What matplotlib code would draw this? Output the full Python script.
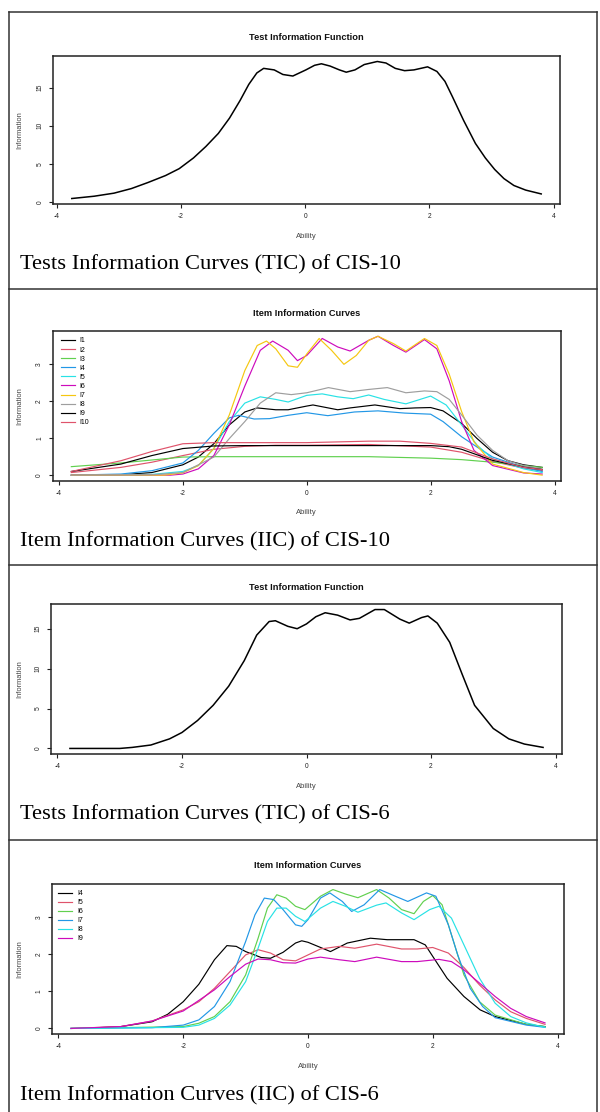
import matplotlib
matplotlib.use('Agg')
import matplotlib.pyplot as plt
from matplotlib.lines import Line2D

plt.rcParams['axes.unicode_minus'] = False
plt.rcParams['font.family'] = ['Liberation Sans', 'DejaVu Sans']

W, H = 600, 1112

# R default palette (R >= 4.0)
R_COLORS = ['black', '#DF536B', '#61D04F', '#2297E6', '#28E2E5',
            '#CD0BBC', '#F5C710', '#9E9E9E']

# ---------------- Panel 1: TIC of CIS-10 ----------------
tic10_theta = [-3.76, -3.4, -3.08, -2.8, -2.53, -2.25, -2.03, -1.8, -1.6, -1.4,
               -1.22, -1.05, -0.91, -0.78, -0.67, -0.5, -0.36, -0.2, 0.01, 0.15,
               0.26, 0.4, 0.55, 0.66, 0.8, 0.95, 1.16, 1.3, 1.45, 1.6,
               1.75, 1.97, 2.12, 2.25, 2.37, 2.55, 2.74, 2.9, 3.05, 3.2,
               3.36, 3.55, 3.8]
tic10_info = [0.5, 0.8, 1.2, 1.8, 2.6, 3.5, 4.4, 5.8, 7.3, 9.0,
              11.0, 13.3, 15.4, 16.9, 17.5, 17.3, 16.7, 16.5, 17.3, 17.9,
              18.1, 17.8, 17.3, 17.0, 17.3, 18.0, 18.4, 18.2, 17.5, 17.2,
              17.3, 17.7, 17.1, 15.8, 13.8, 10.7, 7.7, 5.8, 4.3, 3.1,
              2.2, 1.6, 1.1]

# ---------------- Panel 2: IIC of CIS-10 ----------------
iic10_labels = ['I1', 'I2', 'I3', 'I4', 'I5', 'I6', 'I7', 'I8', 'I9', 'I10']

i1_theta = [-3.8, -3.0, -2.5, -2.0, -1.75, -1.5, -1.25, -1.0, -0.8, -0.5, -0.3, 0.0,
            0.1, 0.5, 0.7, 1.1, 1.5, 1.75, 2.0, 2.2, 2.5, 2.75, 3.0, 3.25, 3.5, 3.8]
i1_info = [0.0, 0.01, 0.07, 0.28, 0.49, 0.85, 1.36, 1.71, 1.82, 1.77, 1.77, 1.87,
           1.90, 1.77, 1.82, 1.90, 1.80, 1.82, 1.83, 1.74, 1.40, 0.99, 0.62, 0.39, 0.28, 0.21]

i2_theta = [-3.8, -3.0, -2.5, -2.0, -1.5, -1.0, -0.5, 0.0, 1.0, 2.0, 2.5, 3.0, 3.5, 3.8]
i2_info = [0.07, 0.21, 0.35, 0.53, 0.70, 0.78, 0.81, 0.81, 0.83, 0.76, 0.62, 0.37, 0.19, 0.12]

i3_theta = [-3.8, -3.0, -2.5, -2.0, -1.5, 0.0, 1.0, 1.5, 2.0, 2.5, 3.0, 3.5, 3.8]
i3_info = [0.23, 0.33, 0.41, 0.49, 0.50, 0.50, 0.50, 0.48, 0.46, 0.42, 0.35, 0.26, 0.21]

i4_theta = [-3.8, -3.0, -2.5, -2.0, -1.75, -1.5, -1.25, -1.1, -0.85, -0.6, -0.3, 0.0,
            0.34, 0.77, 1.15, 1.58, 2.0, 2.2, 2.5, 2.75, 3.0, 3.5, 3.8]
i4_info = [0.0, 0.03, 0.12, 0.33, 0.67, 1.13, 1.55, 1.62, 1.52, 1.53, 1.62, 1.69,
           1.61, 1.71, 1.74, 1.68, 1.65, 1.45, 1.04, 0.76, 0.49, 0.21, 0.10]

i5_theta = [-3.8, -2.5, -2.0, -1.75, -1.5, -1.25, -1.0, -0.75, -0.5, -0.3, 0.0, 0.25,
            0.5, 0.75, 1.0, 1.25, 1.6, 2.0, 2.25, 2.5, 2.75, 3.0, 3.5, 3.8]
i5_info = [0.0, 0.02, 0.10, 0.26, 0.72, 1.45, 1.95, 2.12, 2.05, 1.98, 2.16, 2.20,
           2.12, 2.07, 2.17, 2.05, 1.93, 2.14, 1.90, 1.36, 0.81, 0.44, 0.17, 0.07]

i6_theta = [-3.8, -2.2, -2.0, -1.75, -1.5, -1.25, -1.0, -0.75, -0.55, -0.3, -0.15, 0.0,
            0.25, 0.5, 0.7, 1.0, 1.15, 1.4, 1.6, 1.9, 2.1, 2.3, 2.5, 2.7, 3.0, 3.5, 3.8]
i6_info = [0.0, 0.0, 0.03, 0.17, 0.53, 1.36, 2.41, 3.38, 3.63, 3.38, 3.10, 3.24,
           3.70, 3.47, 3.36, 3.65, 3.76, 3.51, 3.33, 3.67, 3.42, 2.55, 1.45, 0.67, 0.26, 0.06, 0.03]

i7_theta = [-3.8, -2.3, -2.0, -1.75, -1.5, -1.25, -1.0, -0.8, -0.65, -0.5, -0.3, -0.15,
            0.0, 0.2, 0.4, 0.6, 0.8, 1.0, 1.15, 1.4, 1.6, 1.9, 2.1, 2.3, 2.5, 2.7,
            3.0, 3.5, 3.8]
i7_info = [0.0, 0.0, 0.06, 0.26, 0.72, 1.63, 2.83, 3.51, 3.63, 3.42, 2.96, 2.92,
           3.28, 3.70, 3.38, 3.00, 3.24, 3.65, 3.76, 3.56, 3.36, 3.70, 3.51, 2.73, 1.72, 0.90,
           0.30, 0.07, 0.0]

i8_theta = [-3.8, -2.5, -2.0, -1.5, -1.25, -1.0, -0.75, -0.5, -0.25, 0.0, 0.35, 0.7,
            1.0, 1.3, 1.6, 1.9, 2.1, 2.3, 2.5, 2.75, 3.0, 3.25, 3.5, 3.8]
i8_info = [0.0, 0.01, 0.07, 0.49, 0.99, 1.45, 1.95, 2.23, 2.18, 2.23, 2.37, 2.26,
           2.32, 2.37, 2.23, 2.28, 2.26, 2.05, 1.63, 1.08, 0.67, 0.39, 0.26, 0.17]

i9_theta = [-3.8, -3.0, -2.5, -2.0, -1.5, -1.0, 0.0, 1.0, 2.0, 2.3, 2.5, 3.0, 3.5, 3.8]
i9_info = [0.10, 0.30, 0.53, 0.72, 0.79, 0.80, 0.80, 0.80, 0.80, 0.77, 0.70, 0.40, 0.22, 0.15]

i10_theta = [-3.8, -3.0, -2.5, -2.0, -1.5, -1.0, 0.0, 1.0, 1.5, 2.0, 2.5, 3.0, 3.5, 3.8]
i10_info = [0.10, 0.39, 0.64, 0.85, 0.88, 0.88, 0.88, 0.92, 0.92, 0.86, 0.76, 0.44, 0.21, 0.15]

# ---------------- Panel 3: TIC of CIS-6 ----------------
tic6_theta = [-3.8, -3.0, -2.8, -2.5, -2.2, -2.0, -1.75, -1.5, -1.25, -1.0, -0.8, -0.6,
              -0.5, -0.3, -0.15, 0.0, 0.15, 0.3, 0.5, 0.7, 0.85, 1.1, 1.25, 1.5,
              1.65, 1.85, 1.95, 2.1, 2.3, 2.5, 2.7, 3.0, 3.25, 3.5, 3.8]
tic6_info = [0.0, 0.0, 0.13, 0.43, 1.2, 2.0, 3.5, 5.4, 7.8, 11.0, 14.2, 15.9,
             16.0, 15.3, 15.0, 15.6, 16.5, 17.0, 16.7, 16.1, 16.3, 17.4, 17.4, 16.2,
             15.7, 16.4, 16.6, 15.7, 13.3, 9.3, 5.4, 2.5, 1.2, 0.55, 0.13]

# ---------------- Panel 4: IIC of CIS-6 ----------------
iic6_labels = ['I4', 'I5', 'I6', 'I7', 'I8', 'I9']

c6_i4_theta = [-3.8, -3.5, -3.0, -2.5, -2.25, -2.0, -1.75, -1.5, -1.3, -1.15, -1.0, -0.75,
               -0.6, -0.4, -0.2, -0.1, 0.0, 0.36, 0.63, 1.0, 1.27, 1.7, 1.88, 2.0,
               2.23, 2.5, 2.76, 3.0, 3.5, 3.8]
c6_i4_info = [0.0, 0.01, 0.05, 0.18, 0.38, 0.72, 1.19, 1.85, 2.23, 2.21, 2.07, 1.91,
              1.89, 2.05, 2.30, 2.36, 2.32, 2.07, 2.30, 2.43, 2.39, 2.39, 2.25, 1.94,
              1.35, 0.86, 0.50, 0.32, 0.11, 0.05]

c6_i5_theta = [-3.8, -3.0, -2.5, -2.0, -1.75, -1.5, -1.25, -1.0, -0.8, -0.6, -0.4, -0.2,
               0.0, 0.2, 0.5, 0.75, 1.1, 1.5, 1.75, 2.0, 2.25, 2.5, 2.75, 3.0, 3.25, 3.5, 3.8]
c6_i5_info = [0.0, 0.05, 0.20, 0.50, 0.72, 1.08, 1.53, 1.98, 2.12, 2.03, 1.85, 1.82,
              1.98, 2.14, 2.21, 2.16, 2.27, 2.14, 2.14, 2.18, 2.03, 1.64, 1.17, 0.77, 0.45, 0.27, 0.11]

c6_i6_theta = [-3.8, -2.0, -1.75, -1.5, -1.25, -1.0, -0.8, -0.65, -0.5, -0.35, -0.2, -0.05,
               0.2, 0.4, 0.6, 0.8, 1.1, 1.3, 1.5, 1.7, 1.85, 2.0, 2.15, 2.3, 2.5, 2.75,
               3.0, 3.5, 3.8]
c6_i6_info = [0.0, 0.05, 0.14, 0.32, 0.72, 1.44, 2.43, 3.24, 3.60, 3.51, 3.29, 3.20,
              3.56, 3.74, 3.62, 3.52, 3.74, 3.51, 3.20, 3.09, 3.42, 3.58, 3.33, 2.52, 1.44, 0.72,
              0.36, 0.11, 0.05]

c6_i7_theta = [-3.8, -2.5, -2.0, -1.75, -1.5, -1.25, -1.0, -0.85, -0.7, -0.55, -0.4, -0.2,
               -0.1, 0.0, 0.2, 0.35, 0.55, 0.7, 0.9, 1.15, 1.4, 1.6, 1.9, 2.05, 2.25, 2.4,
               2.6, 2.8, 3.0, 3.5, 3.8]
c6_i7_info = [0.0, 0.02, 0.09, 0.23, 0.59, 1.26, 2.34, 3.06, 3.51, 3.47, 3.20, 2.79,
              2.75, 2.93, 3.51, 3.65, 3.42, 3.15, 3.33, 3.74, 3.56, 3.42, 3.65, 3.56, 2.79, 1.98,
              1.08, 0.59, 0.29, 0.09, 0.03]

c6_i8_theta = [-3.8, -2.0, -1.75, -1.5, -1.25, -1.0, -0.8, -0.65, -0.5, -0.35, -0.2, -0.05,
               0.2, 0.4, 0.6, 0.8, 1.1, 1.25, 1.5, 1.7, 1.95, 2.1, 2.3, 2.5, 2.75, 3.0,
               3.25, 3.5, 3.8]
c6_i8_info = [0.0, 0.03, 0.09, 0.27, 0.63, 1.26, 2.16, 2.88, 3.24, 3.24, 3.02, 2.88,
              3.24, 3.42, 3.29, 3.13, 3.32, 3.38, 3.11, 2.93, 3.20, 3.29, 2.97, 2.25, 1.35, 0.68,
              0.32, 0.15, 0.03]

c6_i9_theta = [-3.8, -3.0, -2.5, -2.0, -1.5, -1.25, -1.0, -0.8, -0.6, -0.4, -0.2, 0.0,
               0.2, 0.5, 0.75, 1.1, 1.5, 1.75, 2.1, 2.3, 2.5, 2.75, 3.0, 3.25, 3.5, 3.8]
c6_i9_info = [0.0, 0.05, 0.20, 0.47, 1.04, 1.40, 1.73, 1.87, 1.85, 1.77, 1.76, 1.87,
              1.92, 1.85, 1.80, 1.92, 1.80, 1.80, 1.86, 1.80, 1.58, 1.22, 0.86, 0.54, 0.32, 0.15]

x_ticks = [-4, -2, 0, 2, 4]
x_tick_labels = ['-4', '-2', '0', '2', '4']
tic_yticks = [0, 5, 10, 15]
iic_yticks = [0, 1, 2, 3]

plot_titles = ['Test Information Function', 'Item Information Curves',
               'Test Information Function', 'Item Information Curves']
captions = ['Tests Information Curves (TIC) of CIS-10',
            'Item Information Curves (IIC) of CIS-10',
            'Tests Information Curves (TIC) of CIS-6',
            'Item Information Curves (IIC) of CIS-6']

# ---------------- layout (pixels) ----------------
fig = plt.figure(figsize=(W / 100, H / 100), dpi=100)
fig.patch.set_facecolor('white')


def fx(x):
    return x / W


def fy(y):
    return 1 - y / H


def add_ax(l, r, t, b):
    return fig.add_axes([l / W, 1 - b / H, (r - l) / W, (b - t) / H])


def style(ax, yticks):
    ax.margins(x=0.04, y=0.04)
    ax.set_xticks(x_ticks)
    ax.set_xticklabels(x_tick_labels)
    ax.set_yticks(yticks)
    ax.set_yticklabels([str(v) for v in yticks])
    for s in ax.spines.values():
        s.set_linewidth(1.1)
        s.set_color('#222222')
    ax.tick_params(direction='out', length=3.2, width=0.8, labelsize=4.8,
                   pad=3.5, colors='#222222')
    ax.tick_params(axis='y', labelrotation=90)
    for lab in ax.get_yticklabels():
        lab.set_va('center')


panels = [
    dict(rect=(53, 560, 56, 204), title_y=38, xlab_y=237, cap_y=265),
    dict(rect=(52.5, 561, 330.7, 480.7), title_y=313, xlab_y=513, cap_y=542),
    dict(rect=(51, 562, 604, 754), title_y=588, xlab_y=786, cap_y=815),
    dict(rect=(52, 564, 884, 1034), title_y=865, xlab_y=1067, cap_y=1096),
]

axes = []
for i, p in enumerate(panels):
    l, r, t, b = p['rect']
    ax = add_ax(l, r, t, b)
    axes.append(ax)
    cx = (l + r) / 2
    fig.text(fx(cx), fy(p['title_y']), plot_titles[i], ha='center', va='center',
             fontsize=6.7, fontweight='bold', color='#111111')
    fig.text(fx(cx), fy(p['xlab_y']), 'Ability', ha='center', va='center',
             fontsize=5.5, color='#444444')
    fig.text(fx(19.5), fy((t + b) / 2), 'Information', ha='center', va='center',
             rotation=90, fontsize=5.4, color='#444444')
    fig.text(fx(20), fy(p['cap_y']), captions[i], ha='left', va='center',
             fontsize=16.2, family=['Liberation Serif', 'DejaVu Serif'], color='black')

# Panel 1
ax = axes[0]
ax.plot(tic10_theta, tic10_info, color='black', lw=1.1)
style(ax, tic_yticks)

legend_kw = dict(loc='upper left', frameon=False, fontsize=5, handlelength=2.0,
                 handletextpad=0.7, labelspacing=0.3, borderpad=0, borderaxespad=0)

# Panel 2
ax = axes[1]
series10 = [(i1_theta, i1_info), (i2_theta, i2_info), (i3_theta, i3_info),
            (i4_theta, i4_info), (i5_theta, i5_info), (i6_theta, i6_info),
            (i7_theta, i7_info), (i8_theta, i8_info), (i9_theta, i9_info),
            (i10_theta, i10_info)]
for k, (th, inf) in enumerate(series10):
    ax.plot(th, inf, color=R_COLORS[k % 8], lw=0.85, label=iic10_labels[k])
style(ax, iic_yticks)
ax.legend(bbox_to_anchor=(0.016, 0.955), **legend_kw)

# Panel 3
ax = axes[2]
ax.plot(tic6_theta, tic6_info, color='black', lw=1.1)
style(ax, tic_yticks)

# Panel 4
ax = axes[3]
series6 = [(c6_i4_theta, c6_i4_info), (c6_i5_theta, c6_i5_info),
           (c6_i6_theta, c6_i6_info), (c6_i7_theta, c6_i7_info),
           (c6_i8_theta, c6_i8_info), (c6_i9_theta, c6_i9_info)]
for k, (th, inf) in enumerate(series6):
    ax.plot(th, inf, color=R_COLORS[k % 8], lw=0.85, label=iic6_labels[k])
style(ax, iic_yticks)
ax.legend(bbox_to_anchor=(0.012, 0.96), **legend_kw)

# Frame / divider lines
border_kw = dict(color='#333333', lw=1.1, transform=fig.transFigure, clip_on=False)
for yy in [12, 288.5, 564.5, 840]:
    fig.add_artist(Line2D([fx(9), fx(597)], [fy(yy), fy(yy)], **border_kw))
fig.add_artist(Line2D([fx(9), fx(9)], [fy(12), fy(1112)], **border_kw))
fig.add_artist(Line2D([fx(597), fx(597)], [fy(12), fy(1112)], **border_kw))

fig.savefig('out.png', dpi=100)
